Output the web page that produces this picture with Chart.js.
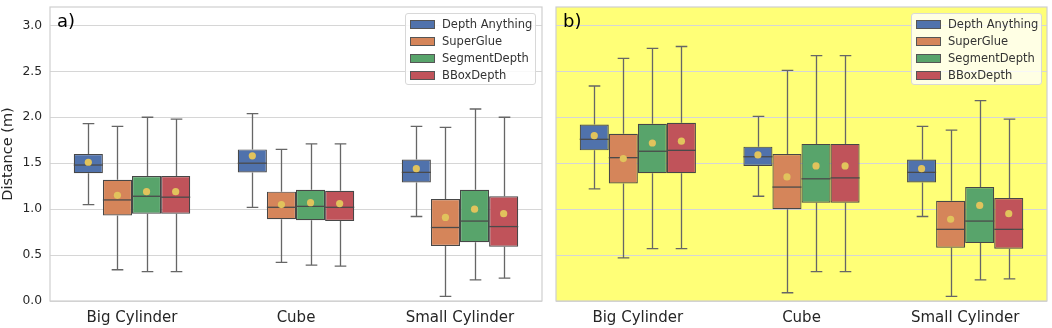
<!DOCTYPE html>
<html><head><meta charset="utf-8">
<script src="https://cdn.jsdelivr.net/npm/chart.js@4.4.1/dist/chart.umd.min.js"></script>
<style>
html,body{margin:0;padding:0;background:#fff;width:1052px;height:328px;overflow:hidden;font-family:"DejaVu Sans",sans-serif;}
.wrap{position:absolute;top:0;height:328px;}
#w1{left:0;width:546px;}
#w2{left:548px;width:504px;}
.legend{position:absolute;top:13px;width:131px;height:72px;border:1px solid #d8d8d8;border-radius:3px;box-sizing:border-box;}
.legend .row{position:absolute;left:4px;height:17px;font-size:11.5px;color:#333;line-height:17px;white-space:nowrap;}
.legend .sw{position:absolute;left:0;top:4.5px;width:23px;height:7px;border:1px solid #555;}
.legend .lb{position:absolute;left:32px;top:0;}
.panel{position:absolute;top:10px;font-size:18px;color:#000;}
</style></head>
<body>
<div class="wrap" id="w1"><canvas id="c1" width="546" height="328"></canvas></div>
<div class="wrap" id="w2"><canvas id="c2" width="504" height="328"></canvas></div>
<div class="panel" style="left:57px">a)</div>
<div class="panel" style="left:563px">b)</div>
<div class="legend" id="lg1" style="left:405px;background:rgba(255,255,255,0.85)"></div>
<div class="legend" id="lg2" style="left:911px;background:rgba(255,255,255,0.8)"></div>
<script>
const categories = ["Big Cylinder", "Cube", "Small Cylinder"];
const methods = ["Depth Anything", "SuperGlue", "SegmentDepth", "BBoxDepth"];
const colors = ["#5072AC", "#D5855A", "#58A46B", "#C0535A"];
const yTicks = [0.0, 0.5, 1.0, 1.5, 2.0, 2.5, 3.0];

// Panel a) : per method, per category [min, q1, median, q3, max, mean]
const aDepthAnything = [[1.05,1.39,1.48,1.60,1.93,1.51],[1.02,1.40,1.50,1.65,2.04,1.58],[0.92,1.29,1.40,1.54,1.90,1.44]];
const aSuperGlue     = [[0.34,0.93,1.10,1.32,1.90,1.15],[0.42,0.89,1.02,1.19,1.65,1.05],[0.05,0.60,0.80,1.11,1.89,0.91]];
const aSegmentDepth  = [[0.32,0.95,1.14,1.36,2.00,1.19],[0.39,0.88,1.03,1.21,1.71,1.07],[0.23,0.64,0.87,1.21,2.09,1.00]];
const aBBoxDepth     = [[0.32,0.95,1.13,1.36,1.98,1.19],[0.38,0.87,1.02,1.20,1.71,1.06],[0.25,0.59,0.81,1.14,2.00,0.95]];

// Panel b)
const bDepthAnything = [[1.22,1.64,1.76,1.92,2.34,1.80],[1.14,1.47,1.57,1.68,2.01,1.59],[0.92,1.29,1.40,1.54,1.90,1.44]];
const bSuperGlue     = [[0.47,1.28,1.56,1.82,2.64,1.55],[0.09,1.00,1.24,1.60,2.51,1.35],[0.05,0.58,0.78,1.09,1.86,0.89]];
const bSegmentDepth  = [[0.57,1.39,1.63,1.93,2.75,1.72],[0.32,1.07,1.33,1.71,2.67,1.47],[0.23,0.63,0.87,1.24,2.18,1.04]];
const bBBoxDepth     = [[0.57,1.39,1.64,1.94,2.77,1.74],[0.32,1.07,1.34,1.71,2.67,1.47],[0.24,0.57,0.78,1.12,1.98,0.95]];

const panelA = [aDepthAnything, aSuperGlue, aSegmentDepth, aBBoxDepth];
const panelB = [bDepthAnything, bSuperGlue, bSegmentDepth, bBBoxDepth];

function buildLegend(id){
  const el = document.getElementById(id);
  methods.forEach((m,i)=>{
    const r = document.createElement('div');
    r.className='row'; r.style.top = (1.5 + i*17) + 'px';
    r.innerHTML = '<span class="sw" style="background:'+colors[i]+'"></span><span class="lb">'+m+'</span>';
    el.appendChild(r);
  });
}
buildLegend('lg1'); buildLegend('lg2');

const boxPlugin = {
  id:'boxPlugin',
  beforeDraw(chart, args, opts){
    const a = chart.chartArea, ctx = chart.ctx;
    ctx.save();
    ctx.fillStyle = opts.bg || '#fff';
    ctx.fillRect(a.left, a.top, a.right-a.left, a.bottom-a.top);
    ctx.restore();
  },
  beforeDatasetsDraw(chart){
    const ctx = chart.ctx, y = chart.scales.y;
    ctx.save();
    ctx.strokeStyle = '#666666'; ctx.lineWidth = 1.3;
    chart.data.datasets.forEach((ds, di)=>{
      const meta = chart.getDatasetMeta(di);
      meta.data.forEach((el, i)=>{
        const s = ds.stats[i];
        const x = Math.round(el.x)+0.5, hw = el.width*0.2;
        const pMin = y.getPixelForValue(s[0]), pQ1 = y.getPixelForValue(s[1]);
        const pQ3 = y.getPixelForValue(s[3]), pMax = y.getPixelForValue(s[4]);
        ctx.beginPath();
        ctx.moveTo(x, pQ1); ctx.lineTo(x, pMin);
        ctx.moveTo(x, pQ3); ctx.lineTo(x, pMax);
        ctx.moveTo(x-hw, pMin); ctx.lineTo(x+hw, pMin);
        ctx.moveTo(x-hw, pMax); ctx.lineTo(x+hw, pMax);
        ctx.stroke();
      });
    });
    ctx.restore();
  },
  afterDatasetsDraw(chart){
    const ctx = chart.ctx, y = chart.scales.y;
    ctx.save();
    chart.data.datasets.forEach((ds, di)=>{
      const meta = chart.getDatasetMeta(di);
      meta.data.forEach((el, i)=>{
        const s = ds.stats[i];
        const x = el.x, w = el.width;
        const pMed = y.getPixelForValue(s[2]), pMean = y.getPixelForValue(s[5]);
        ctx.strokeStyle = '#4a4a4a'; ctx.lineWidth = 1.3;
        ctx.beginPath(); ctx.moveTo(x-w/2, pMed); ctx.lineTo(x+w/2, pMed); ctx.stroke();
        ctx.fillStyle = '#E1C35C';
        ctx.beginPath(); ctx.arc(x, pMean, 3.6, 0, Math.PI*2); ctx.fill();
      });
    });
    ctx.restore();
  },
  afterDraw(chart){
    const a = chart.chartArea, ctx = chart.ctx;
    ctx.save();
    ctx.strokeStyle = '#cfcfcf'; ctx.lineWidth = 1.2;
    ctx.strokeRect(a.left, a.top, a.right-a.left, a.bottom-a.top);
    ctx.restore();
  }
};

function makeChart(id, panel, showY, bg, pad){
  const datasets = panel.map((rows, mi)=>({
    label: methods[mi],
    data: rows.map(r=>[r[1], r[3]]),
    stats: rows,
    backgroundColor: colors[mi],
    borderColor: '#474747',
    borderWidth: 1.2,
    borderSkipped: false,
    barPercentage: 1.0,
    categoryPercentage: 0.71
  }));
  return new Chart(document.getElementById(id), {
    type:'bar',
    data:{labels:categories, datasets},
    options:{
      responsive:false, animation:false,
      layout:{padding:pad},
      plugins:{legend:{display:false}, tooltip:{enabled:false}, boxPlugin:{bg}},
      scales:{
        x:{
          grid:{display:false},
          border:{display:false},
          ticks:{color:'#262626', font:{family:'DejaVu Sans', size:15}, padding:0},
          afterFit(s){ s.height = 27; s.paddingLeft = 0; s.paddingRight = 0; }
        },
        y:{
          min:0, max:3.2,
          grid:{color:'#d6d6d6', lineWidth:1, drawTicks:false},
          border:{display:false},
          afterBuildTicks(s){ s.ticks = yTicks.map(v=>({value:v})); },
          ticks:{display:showY, color:'#262626', font:{family:'DejaVu Sans', size:12.3}, padding:8,
                 callback:(v)=>Number(v).toFixed(1)},
          title:{display:showY, text:'Distance (m)', color:'#262626', font:{family:'DejaVu Sans', size:14.5}, padding:{top:0,bottom:0}},
          afterFit(s){ s.width = showY ? 50 : 0; s.paddingTop = 0; s.paddingBottom = 0; }
        }
      }
    },
    plugins:[boxPlugin]
  });
}
makeChart('c1', panelA, true, '#ffffff', {left:0, right:4, top:7, bottom:0});
makeChart('c2', panelB, false, '#FFFF77', {left:8, right:5, top:7, bottom:0});
</script>
</body></html>
